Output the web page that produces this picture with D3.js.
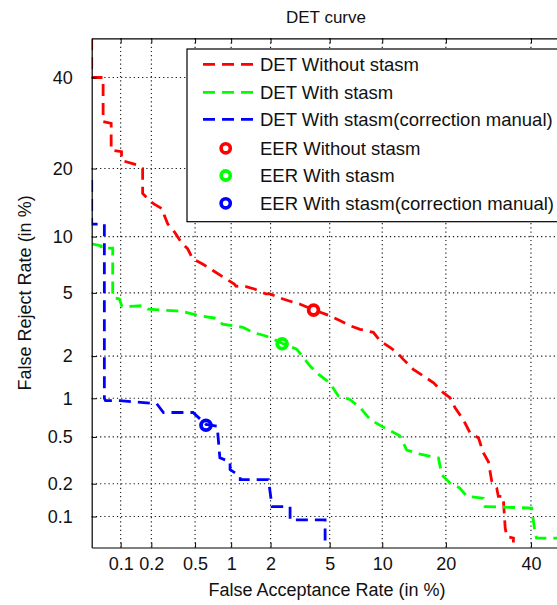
<!DOCTYPE html>
<html lang="en">
<head>
<meta charset="utf-8">
<script src="https://cdn.jsdelivr.net/npm/d3@7"></script>
<style>
  body { margin: 0; background: #fff; }
  text { font-family: "Liberation Sans", Arial, sans-serif; fill: #111; }
  .tick line { stroke: #000; }
  .domain { stroke: #000; }
</style>
</head>
<body>
<div id="graph"></div>
<script>

// tick values (in %), same on both axes
var tickVals = [0.1, 0.2, 0.5, 1, 2, 5, 10, 20, 40];

// DET curves, [FAR %, FRR %]
var detWithout = [[0.05,50],[0.05,40],[0.066,40],[0.066,29.5],[0.08,29.1],[0.08,23.5],[0.102,23.2],[0.102,21.5],
  [0.15,20.6],[0.165,20],[0.165,15.8],[0.2,14.5],[0.213,14.2],[0.255,13.5],[0.265,12.6],[0.285,11.5],[0.33,10.5],
  [0.376,9.4],[0.43,8.7],[0.477,7.7],[0.58,7.24],[0.71,6.67],[0.91,6.0],[1.06,5.62],[1.09,5.46],[1.31,5.43],
  [1.52,5.26],[1.85,4.93],[1.98,4.93],[2.46,4.6],[2.9,4.4],[3.2,4.3],[3.94,3.97],[5.0,3.65],[5.8,3.4],[6.63,3.16],
  [7.57,3.0],[8.96,2.87],[9.74,2.53],[10.97,2.29],[11.9,2.12],[12.8,1.9],[14.3,1.62],[15.9,1.46],[17.7,1.3],
  [19.5,1.1],[20.8,1.01],[21.8,0.85],[23.5,0.69],[25,0.54],[26.9,0.49],[28,0.37],[29.2,0.31],[30,0.21],
  [31.2,0.183],[31.6,0.154],[32.8,0.154],[33.3,0.078],[33.7,0.064],[35.4,0.062],[35.4,0.056]];

var detWith = [[0.05,9.2],[0.063,9.0],[0.063,8.75],[0.083,8.75],[0.083,4.7],[0.097,4.6],[0.103,4.16],[0.127,4.16],
  [0.165,4.2],[0.185,4.0],[0.34,3.91],[0.417,3.83],[0.51,3.69],[0.75,3.52],[0.85,3.24],[1.03,3.16],[1.24,3.09],
  [1.47,2.87],[1.85,2.72],[2.42,2.44],[3.05,2.23],[3.75,1.71],[4.24,1.5],[5.0,1.3],[5.65,1.04],[6.6,0.98],
  [7.57,0.85],[8.6,0.69],[9.9,0.61],[11,0.56],[12.3,0.51],[13.3,0.39],[15.4,0.36],[18.6,0.335],[19.2,0.24],
  [20.8,0.203],[22.8,0.183],[24.3,0.154],[28,0.148],[28.4,0.124],[40.2,0.12],[41.1,0.069],[41.5,0.062],[50,0.062]];

var detManual = [[0.05,18],[0.05,11.5],[0.068,11.5],[0.068,1.0],[0.07,0.96],[0.098,0.96],[0.225,0.91],[0.26,0.78],
  [0.48,0.78],[0.62,0.63],[0.77,0.61],[0.81,0.335],[0.98,0.31],[0.98,0.266],[1.18,0.232],[1.18,0.217],[1.93,0.217],
  [2.05,0.124],[2.75,0.124],[2.75,0.093],[4.68,0.093],[4.68,0.05]];

// equal error rate points
var eerPoints = [[3.95,3.95],[2.42,2.42],[0.62,0.62]];

var seriesColors = ["#ff0000", "#00ff00", "#0000ff"];
var lineLabels = ["DET Without stasm", "DET With stasm", "DET With stasm(correction manual)"];
var eerLabels = ["EER Without stasm", "EER With stasm", "EER With stasm(correction manual)"];

// inverse normal cdf (Acklam)
function norminv(p){
  var a=[-3.969683028665376e+01,2.209460984245205e+02,-2.759285104469687e+02,1.383577518672690e+02,-3.066479806614716e+01,2.506628277459239e+00];
  var b=[-5.447609879822406e+01,1.615858368580409e+02,-1.556989798598866e+02,6.680131188771972e+01,-1.328068155288572e+01];
  var c=[-7.784894002430293e-03,-3.223964580411365e-01,-2.400758277161838e+00,-2.549732539343734e+00,4.374664141464968e+00,2.938163982698783e+00];
  var d=[7.784695709041462e-03,3.224671290700398e-01,2.445134137142996e+00,3.754408661907416e+00];
  var q, r;
  if (p < 0.02425) {
    q = Math.sqrt(-2*Math.log(p));
    return (((((c[0]*q+c[1])*q+c[2])*q+c[3])*q+c[4])*q+c[5])/((((d[0]*q+d[1])*q+d[2])*q+d[3])*q+1);
  }
  if (p <= 1-0.02425) {
    q = p-0.5; r = q*q;
    return (((((a[0]*r+a[1])*r+a[2])*r+a[3])*r+a[4])*r+a[5])*q/(((((b[0]*r+b[1])*r+b[2])*r+b[3])*r+b[4])*r+1);
  }
  q = Math.sqrt(-2*Math.log(1-p));
  return -(((((c[0]*q+c[1])*q+c[2])*q+c[3])*q+c[4])*q+c[5])/((((d[0]*q+d[1])*q+d[2])*q+d[3])*q+1);
}

// probit scale usable by d3.axis
function probitScale(lin){
  var s = function(v){ return lin(norminv(v/100)); };
  s.copy = function(){ return probitScale(lin.copy()); };
  s.range = function(){ return lin.range(); };
  s.domain = function(){ return lin.domain(); };
  return s;
}

var W = 557, H = 605;
var pLeft = 91.7, pRight = 567.6, pTop = 38.3, pBottom = 547.5;
var lo = norminv(0.0005), hi = norminv(0.5);

var xScale = probitScale(d3.scaleLinear().domain([lo, hi]).range([pLeft, pRight]));
var yScale = probitScale(d3.scaleLinear().domain([lo, hi]).range([pBottom, pTop]));

var svg = d3.select('#graph').append('svg').attr('width', W).attr('height', H);

svg.append('defs').append('clipPath').attr('id', 'plotclip')
  .append('rect').attr('x', pLeft).attr('y', pTop).attr('width', pRight-pLeft).attr('height', pBottom-pTop);

// grid
var grid = svg.append('g');
grid.selectAll('.vgrid').data(tickVals).enter().append('line').attr('class','vgrid')
  .attr('x1', function(d){ return xScale(d); }).attr('x2', function(d){ return xScale(d); })
  .attr('y1', pTop).attr('y2', pBottom);
grid.selectAll('.hgrid').data(tickVals).enter().append('line').attr('class','hgrid')
  .attr('y1', function(d){ return yScale(d); }).attr('y2', function(d){ return yScale(d); })
  .attr('x1', pLeft).attr('x2', pRight);
grid.selectAll('line').attr('stroke', '#111').attr('stroke-width', 1.1).attr('stroke-dasharray', '1.2,3');

// curves
var line = d3.line().x(function(d){ return xScale(d[0]); }).y(function(d){ return yScale(d[1]); });
var curves = svg.append('g').attr('clip-path', 'url(#plotclip)');
[detWithout, detWith, detManual].forEach(function(s, i){
  curves.append('path').datum(s).attr('d', line)
    .attr('fill', 'none').attr('stroke', seriesColors[i]).attr('stroke-width', 2.8)
    .attr('stroke-dasharray', '12,7');
});

curves.selectAll('.eer').data(eerPoints).enter().append('circle').attr('class','eer')
  .attr('cx', function(d){ return xScale(d[0]); }).attr('cy', function(d){ return yScale(d[1]); })
  .attr('r', 4.9).attr('fill', 'none').attr('stroke-width', 3.8)
  .attr('stroke', function(d, i){ return seriesColors[i]; });

// axes
var fmt = function(d){ return String(d); };
svg.append('g').attr('transform', 'translate(0,' + pBottom + ')')
  .call(d3.axisBottom(xScale).tickValues(tickVals).tickFormat(fmt).tickSizeInner(-5).tickSizeOuter(0).tickPadding(10));
svg.append('g').attr('transform', 'translate(0,' + pTop + ')')
  .call(d3.axisTop(xScale).tickValues(tickVals).tickFormat('').tickSizeInner(-5).tickSizeOuter(0));
svg.append('g').attr('transform', 'translate(' + pLeft + ',0)')
  .call(d3.axisLeft(yScale).tickValues(tickVals).tickFormat(fmt).tickSizeInner(-5).tickSizeOuter(0).tickPadding(19));
svg.selectAll('.tick text').style('font-size', '18px').attr('fill', '#111');
svg.selectAll('.domain').attr('stroke-width', 1.2);

// legend
var lg = svg.append('g');
lg.append('rect').attr('x', 187).attr('y', 49).attr('width', 420).attr('height', 172.7)
  .attr('fill', '#fff').attr('stroke', '#000').attr('stroke-width', 1.2);
var rowY = [64.3, 92.3, 119.3, 148.3, 175.5, 203.3];
lineLabels.forEach(function(t, i){
  lg.append('line').attr('x1', 203).attr('x2', 255).attr('y1', rowY[i]).attr('y2', rowY[i])
    .attr('stroke', seriesColors[i]).attr('stroke-width', 2.8).attr('stroke-dasharray', '12,7');
  lg.append('text').attr('x', 260).attr('y', rowY[i]).attr('dy', '0.35em').style('font-size', '18.5px').text(t);
});
eerLabels.forEach(function(t, i){
  var yy = rowY[i+3];
  lg.append('circle').attr('cx', 225.7).attr('cy', yy).attr('r', 4.6).attr('fill', 'none')
    .attr('stroke', seriesColors[i]).attr('stroke-width', 3.6);
  lg.append('text').attr('x', 260).attr('y', yy).attr('dy', '0.35em').style('font-size', '18.5px').text(t);
});

// titles
svg.append('text').attr('x', 326).attr('y', 23).attr('text-anchor', 'middle').style('font-size', '17px').text('DET curve');
svg.append('text').attr('x', 327).attr('y', 596).attr('text-anchor', 'middle').style('font-size', '18px')
  .text('False Acceptance Rate (in %)');
svg.append('text').attr('transform', 'translate(31,' + ((pTop+pBottom)/2) + ') rotate(-90)')
  .attr('text-anchor', 'middle').style('font-size', '18px').text('False Reject Rate (in %)');

</script>
</body>
</html>
